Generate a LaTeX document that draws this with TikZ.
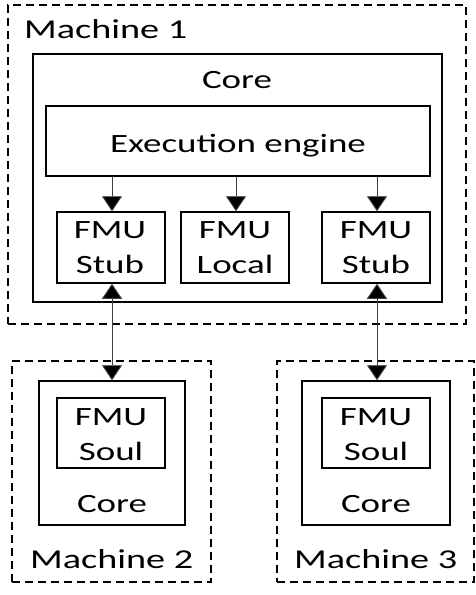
\documentclass[tikz,border=0pt]{standalone}
\usepackage{fontspec}
\setmainfont{Carlito}[FakeStretch=1.4]
\usetikzlibrary{arrows.meta}
\begin{document}
\begin{tikzpicture}[x=1pt,y=-1pt,
  machine/.style={draw, dashed, dash pattern=on 8pt off 5pt, line width=1.6pt, minimum width=#1, inner sep=0pt},
  box/.style={draw, line width=1.5pt, inner sep=0pt},
  lbl/.style={font=\fontsize{26.4}{35}\selectfont, align=center, inner sep=0pt},
  mlbl/.style={font=\fontsize{27.3}{32}\selectfont, inner sep=0pt, anchor=base west},
  arr/.style={draw=black!75, line width=0.9pt, -{Triangle[width=20pt,length=15pt,fill=black]}},
  darr/.style={draw=black!75, line width=0.9pt, {Triangle[width=20pt,length=15pt,fill=black]}-{Triangle[width=20pt,length=15pt,fill=black]}}]
\useasboundingbox (0,0) rectangle (476,595);
\fill[white] (0,0) rectangle (476,595);
% Machine 1
\node[machine=458pt, minimum height=319pt] (m1) at (237,164.5) {};
\node[box, minimum width=409pt, minimum height=248pt] (c1) at (237.5,178) {};
\node[box, minimum width=384pt, minimum height=70pt] (ex) at (238,141) {};
\node[box, minimum width=108pt, minimum height=71pt] (s1) at (111,247.5) {};
\node[box, minimum width=108pt, minimum height=71pt] (lo) at (235,247.5) {};
\node[box, minimum width=108pt, minimum height=71pt] (s2) at (376,247.5) {};
\node[mlbl] (m1t) at (24,38) {Machine 1};
\node[lbl, anchor=base] (c1t) at (237,88) {Core};
\node[lbl, anchor=base] (ext) at (238,152) {Execution engine};
\node[lbl, anchor=base] (s1t) at (110,273) {FMU\\Stub};
\node[lbl, anchor=base] (lot) at (235,273) {FMU\\Local};
\node[lbl, anchor=base] (s2t) at (376,273) {FMU\\Stub};
% Machine 2
\node[machine=199pt, minimum height=221pt] (m2) at (111.5,471.5) {};
\node[box, minimum width=146pt, minimum height=144pt] (c2) at (112,453) {};
\node[box, minimum width=108pt, minimum height=70pt] (so2) at (111,433) {};
\node[lbl, anchor=base] (so2t) at (111,460) {FMU\\Soul};
\node[lbl, anchor=base] (c2t) at (112,512) {Core};
\node[mlbl] (m2t) at (30,568) {Machine 2};
% Machine 3
\node[machine=197pt, minimum height=221pt] (m3) at (375.5,471.5) {};
\node[box, minimum width=148pt, minimum height=144pt] (c3) at (376,453) {};
\node[box, minimum width=108pt, minimum height=70pt] (so3) at (376,433) {};
\node[lbl, anchor=base] (so3t) at (376,460) {FMU\\Soul};
\node[lbl, anchor=base] (c3t) at (376,512) {Core};
\node[mlbl] (m3t) at (294,568) {Machine 3};
% arrows
\draw[arr] (ex.south -| 112,0) -- (s1.north -| 112,0);
\draw[arr] (ex.south -| 236,0) -- (lo.north -| 236,0);
\draw[arr] (ex.south -| 377,0) -- (s2.north -| 377,0);
\draw[darr] (s1.south -| 112,0) -- (c2.north -| 112,0);
\draw[darr] (s2.south -| 377,0) -- (c3.north -| 377,0);
\end{tikzpicture}
\end{document}
